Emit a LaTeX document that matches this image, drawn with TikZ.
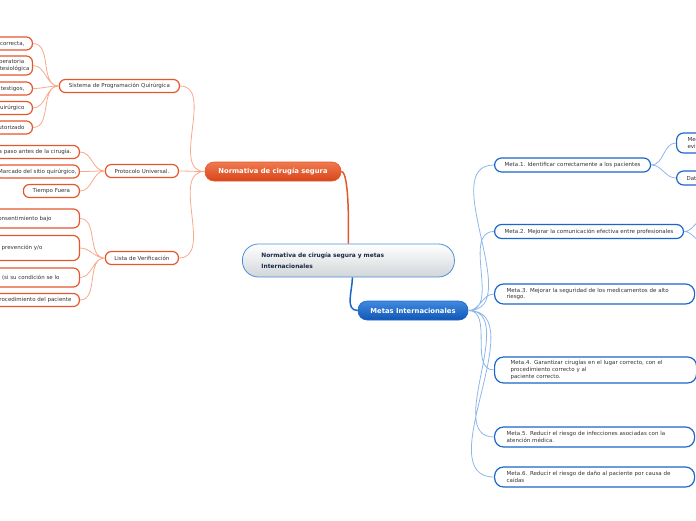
\documentclass[tikz,border=0pt]{standalone}
\usepackage{fontspec}
\setmainfont{DejaVu Sans}
\usepackage{tikz}
\definecolor{naranja}{HTML}{E4572E}
\definecolor{naranjatop}{HTML}{EF7A4F}
\definecolor{naranjabot}{HTML}{D8461A}
\definecolor{naranjaclaro}{HTML}{F6A98D}
\definecolor{azul}{HTML}{1A66C9}
\definecolor{azultop}{HTML}{3F8AE0}
\definecolor{azulbot}{HTML}{1256B5}
\definecolor{azulclaro}{HTML}{8DB7EA}
\definecolor{grisc}{HTML}{D2D6D9}
\definecolor{bordecentro}{HTML}{4A90D9}
\definecolor{marino}{HTML}{1B2846}
\definecolor{tinta}{HTML}{333333}

\begin{document}
\begin{tikzpicture}[x=1pt, y=-1pt,
  hoja/.style={draw=naranja, line width=1.2pt, fill=white, rounded corners=6pt, text=tinta,
    font=\fontsize{5.5}{7}\selectfont, inner xsep=8pt, inner ysep=1pt, minimum height=13pt, anchor=east},
  meta/.style={draw=azul, line width=1.2pt, fill=white, rounded corners=7pt, text=tinta,
    font=\fontsize{5.5}{6.8}\selectfont, inner xsep=10pt, inner ysep=2pt, minimum height=14pt, anchor=west, align=left},
  tronco/.style={rounded corners=9pt, text=white, font=\bfseries\fontsize{6.8}{8}\selectfont,
    minimum height=19pt, line width=0.6pt},
  enlace/.style={naranjaclaro, line width=0.8pt},
  enlaceazul/.style={azulclaro, line width=0.8pt}]
  \useasboundingbox (0,0) rectangle (696,520);
  % centre
  \node[draw=bordecentro, line width=0.8pt, rounded corners=16pt, top color=white, bottom color=grisc,
    text=marino, font=\bfseries\fontsize{5.9}{11}\selectfont, align=left, text width=174pt,
    inner xsep=19pt, minimum height=33pt, anchor=west] (centro) at (242,260.5)
    {Normativa de cirugía segura y metas\\Internacionales};
  % main branches
  \node[tronco, draw=naranja, top color=naranjatop, bottom color=naranjabot, minimum width=136pt] (norma) at (273,171.5) {Normativa de cirugía segura};
  \node[tronco, draw=azul, top color=azultop, bottom color=azulbot, minimum width=110pt] (metas) at (413,310.5) {Metas Internacionales};
  % second level (left)
  \node[hoja, minimum width=120pt] (sistema) at (180,86) {Sistema de Programación Quirúrgica};
  \node[hoja, minimum width=73pt] (protocolo) at (179,171) {Protocolo Universal.};
  \node[hoja, minimum width=73pt] (lista) at (179,258) {Lista de Verificación};
  % leaves of sistema
  \node[hoja] (s1) at (33,43.5) {Información correcta,};
  \node[hoja, align=left, inner xsep=3pt, minimum height=19pt] (s2) at (33,65.5) {Valoración preoperatoria\\Valoración anestesiológica};
  \node[hoja] (s3) at (33,88.5) {Firma de testigos,};
  \node[hoja] (s4) at (33,108) {Programa quirúrgico};
  \node[hoja] (s5) at (33,127.5) {Procedimiento autorizado};
  % leaves of protocolo
  \node[hoja] (p1) at (80,152) {Verificación paso a paso antes de la cirugía.};
  \node[hoja, inner xsep=3pt] (p2) at (80,171.5) {Marcado del sitio quirúrgico,};
  \node[hoja, minimum width=56pt] (p3) at (80,191) {Tiempo Fuera};
  % leaves of lista
  \node[hoja, minimum height=19pt, inner xsep=28pt] (l1) at (80,218.5) {Carta de consentimiento bajo};
  \node[hoja, minimum height=25pt, inner xsep=37pt] (l2) at (80,248) {Medidas de prevención y/o};
  \node[hoja, minimum height=19pt, inner xsep=20pt] (l3) at (80,277.5) {Valoración preanestésica (si su condición se lo};
  \node[hoja] (l4) at (80,300) {Identificación y procedimiento del paciente};
  % metas
  \node[meta] (m1) at (494,165) {Meta.1. Identificar correctamente a los pacientes};
  \node[meta] (m2) at (494,231.5) {Meta.2. Mejorar la comunicación efectiva entre profesionales};
  \node[meta, text width=176pt, inner xsep=12pt, minimum height=20pt, rounded corners=9pt] (m3) at (494,294) {Meta.3. Mejorar la seguridad de los medicamentos de alto\\riesgo.};
  \node[meta, text width=170pt, inner xsep=16pt, minimum height=26pt, rounded corners=9pt] (m4) at (494,370) {Meta.4. Garantizar cirugías en el lugar correcto, con el\\procedimiento correcto y al\\paciente correcto.};
  \node[meta, text width=176pt, inner xsep=12pt, minimum height=20pt, rounded corners=9pt] (m5) at (494,437) {Meta.5. Reducir el riesgo de infecciones asociadas con la\\atención médica.};
  \node[meta, text width=176pt, inner xsep=12pt, minimum height=20pt, rounded corners=9pt] (m6) at (494,477) {Meta.6. Reducir el riesgo de daño al paciente por causa de\\caídas};
  % children of meta 1 (cut at the edge)
  \node[meta, inner xsep=11pt, minimum height=20pt] (m1a) at (676,143) {Medidas para\\evitar errores};
  \node[meta] (m1b) at (676,178) {Datos de identificación};
  \coordinate (m2a) at (704,220);
  \coordinate (m2b) at (704,242);
  % connectors
  \draw[naranja, line width=1.5pt] (centro.north) to[out=90,in=0,looseness=0.3] (norma.east);
  \draw[azul, line width=1.5pt] ([xshift=4pt]centro.south) to[out=-90,in=180] (metas.west);
  \draw[enlace] (norma.west) to[out=180,in=0] (sistema.east)
    (norma.west) to[out=180,in=0] (protocolo.east)
    (norma.west) to[out=180,in=0] (lista.east);
  \draw[enlace] (sistema.west) to[out=180,in=0] (s1.east)
    (sistema.west) to[out=180,in=0] (s2.east)
    (sistema.west) to[out=180,in=0] (s3.east)
    (sistema.west) to[out=180,in=0] (s4.east)
    (sistema.west) to[out=180,in=0] (s5.east);
  \draw[enlace] (protocolo.west) to[out=180,in=0] (p1.east)
    (protocolo.west) to[out=180,in=0] (p2.east)
    (protocolo.west) to[out=180,in=0] (p3.east);
  \draw[enlace] (lista.west) to[out=180,in=0] (l1.east)
    (lista.west) to[out=180,in=0] (l2.east)
    (lista.west) to[out=180,in=0] (l3.east)
    (lista.west) to[out=180,in=0] (l4.east);
  \draw[enlaceazul] (metas.east) to[out=0,in=180] (m1.west)
    (metas.east) to[out=0,in=180] (m2.west)
    (metas.east) to[out=0,in=180] (m3.west)
    (metas.east) to[out=0,in=180] (m4.west)
    (metas.east) to[out=0,in=180] (m5.west)
    (metas.east) to[out=0,in=180] (m6.west);
  \draw[enlaceazul] (m1.east) to[out=0,in=180] (m1a.west)
    (m1.east) to[out=0,in=180] (m1b.west);
  \draw[enlaceazul] (m2.east) to[out=0,in=180] (m2a)
    (m2.east) to[out=0,in=180] (m2b);
\end{tikzpicture}
\end{document}
